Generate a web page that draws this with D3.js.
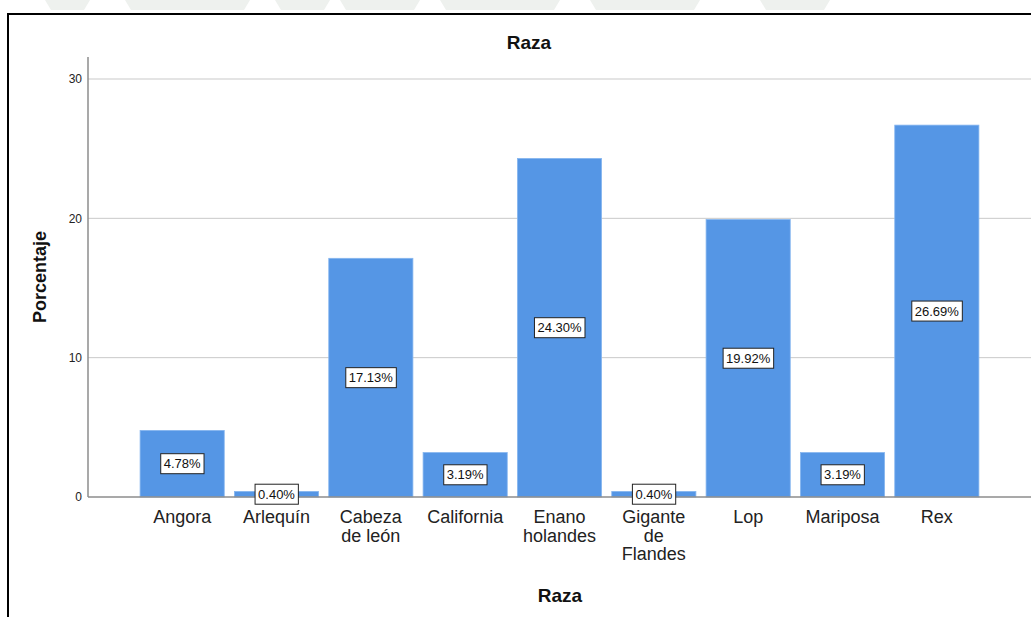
<!DOCTYPE html>
<html>
<head>
<meta charset="utf-8">
<script src="https://cdn.jsdelivr.net/npm/d3@7"></script>
<style>
  html, body { margin: 0; padding: 0; background: #fff; }
  svg { display: block; font-family: "Liberation Sans", Arial, sans-serif; }
</style>
</head>
<body>
<svg id="chart" width="1031" height="617"></svg>
<script>
// Rabbit breeds and their share of the sample (%)
const categories = ["Angora", "Arlequín", "Cabeza de león", "California", "Enano holandes",
                    "Gigante de Flandes", "Lop", "Mariposa", "Rex"];
const categoryLines = [["Angora"], ["Arlequín"], ["Cabeza", "de león"], ["California"],
                       ["Enano", "holandes"], ["Gigante", "de", "Flandes"], ["Lop"], ["Mariposa"], ["Rex"]];
const percentages = [4.78, 0.40, 17.13, 3.19, 24.30, 0.40, 19.92, 3.19, 26.69];
const yTicks = [0, 10, 20, 30];

const svg = d3.select("#chart");

// faint banner strip above the frame
const banner = svg.append("g").attr("fill", "#eef1ee");
[[45, 90], [125, 250], [275, 330], [340, 420], [440, 560], [590, 700], [760, 830]].forEach(([a, b]) => {
  banner.append("path").attr("d", `M${a},0 L${b},0 L${b - 6},10 L${a + 6},10 Z`);
});

// outer frame (top and left edges visible)
svg.append("path")
  .attr("d", "M8,617 L8,14 L1031,14")
  .attr("fill", "none").attr("stroke", "#000").attr("stroke-width", 2);

const x = d3.scaleBand().domain(categories).range([135, 984]).paddingInner(0.108).paddingOuter(0.054);
const y = d3.scaleLinear().domain([0, 30]).range([497, 79]);

// horizontal gridlines
svg.append("g").selectAll("line").data(yTicks.filter(d => d > 0)).join("line")
  .attr("x1", 88).attr("x2", 1031)
  .attr("y1", d => y(d)).attr("y2", d => y(d))
  .attr("stroke", "#c9c9c9").attr("stroke-width", 1);

// y axis
const yAxis = d3.axisLeft(y).tickValues(yTicks).tickSize(0).tickPadding(6);
const gy = svg.append("g").attr("transform", "translate(88,0)").call(yAxis);
gy.select(".domain").remove();
gy.selectAll("text").attr("font-size", 12).attr("fill", "#222")
  .attr("font-family", "'Liberation Sans', Arial, sans-serif");
svg.append("line").attr("x1", 88).attr("x2", 88).attr("y1", 57).attr("y2", 497)
  .attr("stroke", "#8c8c8c").attr("stroke-width", 1.5);

// bars
svg.append("g").selectAll("rect").data(percentages).join("rect")
  .attr("x", (d, i) => x(categories[i]))
  .attr("width", x.bandwidth())
  .attr("y", d => y(d))
  .attr("height", d => y(0) - y(d))
  .attr("fill", "#5596e5")
  .attr("stroke", "#86b6ef").attr("stroke-width", 0.8);

// baseline
svg.append("line").attr("x1", 88).attr("x2", 1031).attr("y1", y(0)).attr("y2", y(0))
  .attr("stroke", "#8c8c8c").attr("stroke-width", 1.5);

// value labels in boxes at half bar height
const labels = svg.append("g").selectAll("g").data(percentages).join("g")
  .attr("transform", (d, i) => `translate(${x(categories[i]) + x.bandwidth() / 2},${y(d / 2)})`);
labels.append("text")
  .attr("text-anchor", "middle").attr("dy", "0.36em")
  .attr("font-size", 13).attr("fill", "#111")
  .text(d => d.toFixed(2) + "%");
labels.each(function () {
  const g = d3.select(this);
  const bb = g.select("text").node().getBBox();
  g.insert("rect", "text")
    .attr("x", bb.x - 3).attr("y", -10)
    .attr("width", bb.width + 6).attr("height", 20)
    .attr("fill", "#fff").attr("stroke", "#222").attr("stroke-width", 1);
});

// category labels
const cat = svg.append("g").selectAll("text").data(categories).join("text")
  .attr("x", d => x(d) + x.bandwidth() / 2)
  .attr("y", 523)
  .attr("text-anchor", "middle").attr("font-size", 18).attr("fill", "#222");
cat.selectAll("tspan").data((d, i) => categoryLines[i]).join("tspan")
  .attr("x", function () { return d3.select(this.parentNode).attr("x"); })
  .attr("dy", (d, j) => j === 0 ? 0 : 18.5)
  .text(d => d);

// titles
svg.append("text").attr("x", 529).attr("y", 49).attr("text-anchor", "middle")
  .attr("font-size", 19).attr("font-weight", "bold").attr("fill", "#111").text("Raza");
svg.append("text").attr("x", 560).attr("y", 602).attr("text-anchor", "middle")
  .attr("font-size", 19).attr("font-weight", "bold").attr("fill", "#111").text("Raza");
svg.append("text").attr("transform", "translate(46,277) rotate(-90)").attr("text-anchor", "middle")
  .attr("font-size", 18).attr("font-weight", "bold").attr("fill", "#111").text("Porcentaje");
</script>
</body>
</html>
